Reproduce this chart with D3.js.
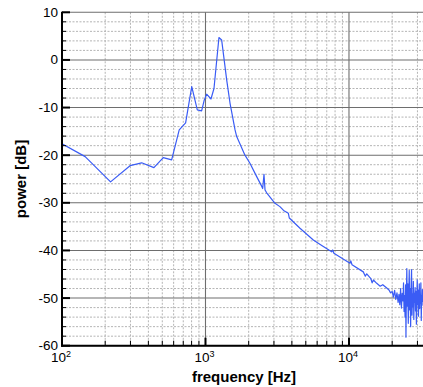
<!DOCTYPE html>
<html>
<head>
<meta charset="utf-8">
<script src="https://cdn.jsdelivr.net/npm/d3@7"></script>
<style>
  body { margin: 0; background: #fff; }
  text { font-family: "Liberation Sans", Arial, sans-serif; }
</style>
</head>
<body>
<svg id="chart" width="423" height="387"></svg>
<script>
// Power spectrum: frequency (Hz) and power (dB)
const freqHz = [
  100, 145, 218, 298, 359, 437, 508, 581, 656, 727,
  802, 877, 940, 981, 1019, 1092, 1146, 1241, 1296, 1405,
  1483, 1607, 1650, 1884, 2041, 2274, 2462, 2504, 2557, 2600,
  2670, 3049, 3302, 3500, 3780, 3840, 4556, 5641, 6500, 7573,
  7700, 7850, 10160, 10300, 10500, 12580, 13000, 13300, 14200, 14500,
  14800, 15610, 16500, 17200, 18330, 19000, 19500, 20000, 20400, 20800,
  21200, 21600, 22000, 22300, 22600, 22900, 23200, 23500, 23800, 24000,
  24200, 24400, 24600, 24800, 24950, 25100, 25300, 25500, 25700, 25900,
  26100, 26300, 26500, 26700, 26900, 27100, 27300, 27500, 27700, 27900,
  28100, 28300, 28500, 28700, 28900, 29100, 29300, 29500, 29700, 29900,
  30100, 30300, 30500, 30700, 30900, 31100, 31300, 31500, 31700, 31900,
  32100, 32300, 32500, 32800, 33200
];
const powerDb = [
  -17.6, -20.3, -25.6, -22.2, -21.6, -22.6, -20.5, -21.0, -14.7, -13.2,
  -5.6, -10.5, -10.7, -8.4, -7.2, -8.2, -6.0, 4.7, 4.2, -4.2,
  -9.1, -14.7, -16.1, -20.0, -21.7, -24.5, -26.5, -27.0, -24.0, -27.3,
  -27.9, -30.1, -30.8, -31.6, -32.2, -33.2, -35.35, -37.8, -39.0, -40.3,
  -39.9, -40.6, -42.7, -42.2, -43.0, -44.5, -45.4, -44.9, -45.9, -46.8,
  -46.2, -46.9, -47.5, -47.2, -47.9, -48.3, -48.9, -48.6, -49.8, -48.4,
  -50.3, -48.9, -50.9, -49.2, -51.4, -48.0, -52.1, -49.0, -50.6, -46.8,
  -52.8, -49.5, -54.0, -47.2, -58.2, -49.8, -43.8, -51.7, -47.0, -55.3,
  -49.1, -44.2, -52.5, -48.0, -56.0, -47.5, -44.0, -53.6, -49.2, -51.8,
  -46.5, -54.5, -49.0, -50.9, -47.8, -52.7, -48.6, -55.5, -49.9, -46.2,
  -51.4, -48.3, -53.8, -50.0, -47.0, -52.2, -49.4, -51.1, -46.8, -54.7,
  -49.6, -51.5, -48.2, -50.7, -49.0
];

// Axis ticks
const yMajorTicks = [10, 0, -10, -20, -30, -40, -50, -60];
const yMinorTicks = [8, 6, 4, 2, -2, -4, -6, -8, -12, -14, -16, -18, -22, -24, -26, -28,
  -32, -34, -36, -38, -42, -44, -46, -48, -52, -54, -56, -58];
const xDecadeExponents = [2, 3, 4];
const xDecadeLabels = ["2", "3", "4"];

const svg = d3.select("#chart");
const plot = { left: 62, top: 12.3, right: 423, bottom: 345.7 };

const x = d3.scaleLog().domain([100, 32800]).range([plot.left, plot.right]);
const y = d3.scaleLinear().domain([-60, 10]).range([plot.bottom, plot.top]);

const xDecades = xDecadeExponents.map(e => Math.pow(10, e));
const xMinor = x.ticks().filter(v => !xDecades.includes(v) && v < 32800);

svg.append("defs").append("clipPath").attr("id", "plotclip")
  .append("rect")
  .attr("x", plot.left).attr("y", plot.top)
  .attr("width", plot.right - plot.left).attr("height", plot.bottom - plot.top);

const grid = svg.append("g");

// minor grid (dashed)
grid.selectAll("line.ymin").data(yMinorTicks).join("line")
  .attr("x1", plot.left).attr("x2", plot.right)
  .attr("y1", d => y(d)).attr("y2", d => y(d))
  .attr("stroke", "#b4b4b4").attr("stroke-width", 1)
  .attr("stroke-dasharray", "2,1.5");
grid.selectAll("line.xmin").data(xMinor).join("line")
  .attr("x1", d => x(d)).attr("x2", d => x(d))
  .attr("y1", plot.top).attr("y2", plot.bottom)
  .attr("stroke", "#b4b4b4").attr("stroke-width", 1)
  .attr("stroke-dasharray", "2,1.5");

// major grid (solid)
grid.selectAll("line.ymaj").data(yMajorTicks).join("line")
  .attr("x1", plot.left).attr("x2", plot.right)
  .attr("y1", d => y(d)).attr("y2", d => y(d))
  .attr("stroke", "#6e6e6e").attr("stroke-width", 1.1);
grid.selectAll("line.xmaj").data(xDecades.slice(1)).join("line")
  .attr("x1", d => x(d)).attr("x2", d => x(d))
  .attr("y1", plot.top).attr("y2", plot.bottom)
  .attr("stroke", "#6e6e6e").attr("stroke-width", 1.1);

// spectrum line
const line = d3.line()
  .x((d, i) => x(freqHz[i]))
  .y(d => y(d));
svg.append("path")
  .datum(powerDb)
  .attr("clip-path", "url(#plotclip)")
  .attr("fill", "none")
  .attr("stroke", "#3a5cf5")
  .attr("stroke-width", 1.2)
  .attr("stroke-linejoin", "round")
  .attr("d", line);

// axes frame
svg.append("line")
  .attr("x1", plot.left).attr("x2", plot.left)
  .attr("y1", plot.top - 0.5).attr("y2", plot.bottom + 1)
  .attr("stroke", "#000").attr("stroke-width", 2);
svg.append("line")
  .attr("x1", plot.left - 1).attr("x2", plot.right)
  .attr("y1", plot.bottom).attr("y2", plot.bottom)
  .attr("stroke", "#000").attr("stroke-width", 2);

// y ticks (inward)
svg.selectAll("line.yt").data(yMajorTicks).join("line")
  .attr("x1", plot.left).attr("x2", plot.left + 8)
  .attr("y1", d => y(d)).attr("y2", d => y(d))
  .attr("stroke", "#000").attr("stroke-width", 2);
svg.selectAll("line.ytm").data(yMinorTicks).join("line")
  .attr("x1", plot.left).attr("x2", plot.left + 4)
  .attr("y1", d => y(d)).attr("y2", d => y(d))
  .attr("stroke", "#000").attr("stroke-width", 1);

// x ticks (inward)
svg.selectAll("line.xtm").data(xMinor).join("line")
  .attr("x1", d => x(d)).attr("x2", d => x(d))
  .attr("y1", plot.bottom).attr("y2", plot.bottom - 5)
  .attr("stroke", "#000").attr("stroke-width", 1);
svg.selectAll("line.xt").data(xDecades).join("line")
  .attr("x1", d => x(d)).attr("x2", d => x(d))
  .attr("y1", plot.bottom).attr("y2", plot.bottom - 8)
  .attr("stroke", "#000").attr("stroke-width", 2);

// y tick labels
svg.selectAll("text.yl").data(yMajorTicks).join("text")
  .attr("x", plot.left - 4).attr("y", d => y(d) + 4.5)
  .attr("text-anchor", "end").attr("font-size", 13.5)
  .text(d => d);

// x tick labels: 10^n
const xl = svg.selectAll("text.xl").data(xDecades).join("text")
  .attr("x", d => x(d) - 1).attr("y", 362)
  .attr("text-anchor", "middle").attr("font-size", 13.5);
xl.append("tspan").text("10");
xl.append("tspan").attr("dy", -5).attr("font-size", 9)
  .text((d, i) => xDecadeLabels[i]);

// axis titles
svg.append("text")
  .attr("x", 244).attr("y", 382)
  .attr("text-anchor", "middle").attr("font-size", 15).attr("font-weight", "bold")
  .text("frequency [Hz]");
svg.append("text")
  .attr("transform", "translate(26,179) rotate(-90)")
  .attr("text-anchor", "middle").attr("font-size", 15).attr("font-weight", "bold")
  .text("power [dB]");
</script>
</body>
</html>
